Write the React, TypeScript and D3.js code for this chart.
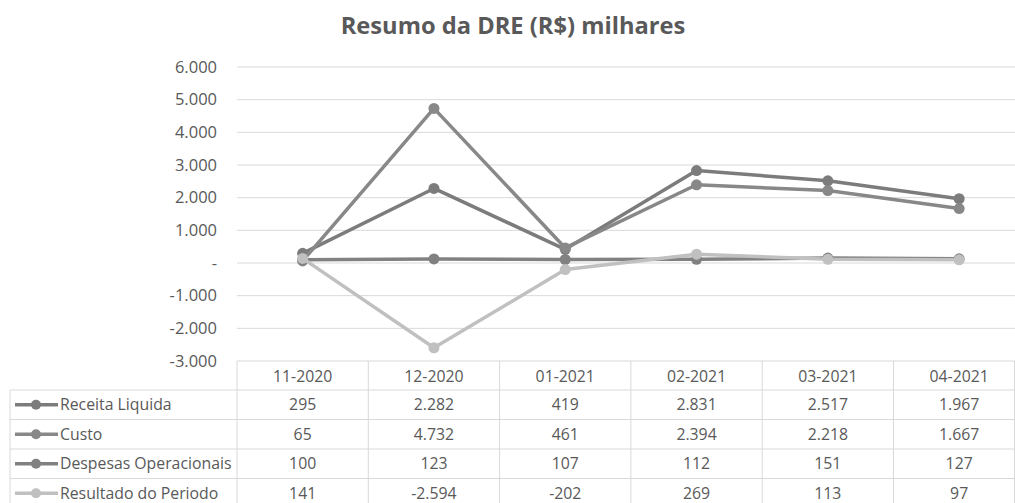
import React from "react";
import * as d3 from "d3";

const categories = ["11-2020", "12-2020", "01-2021", "02-2021", "03-2021", "04-2021"];
const receitaLiquida = [295, 2282, 419, 2831, 2517, 1967];
const custo = [65, 4732, 461, 2394, 2218, 1667];
const despesasOperacionais = [100, 123, 107, 112, 151, 127];
const resultadoPeriodo = [141, -2594, -202, 269, 113, 97];
const seriesNames = ["Receita Liquida", "Custo", "Despesas Operacionais", "Resultado do Periodo"];
const seriesColors = ["#7c7c7c", "#888888", "#818181", "#c0c0c0"];
const yTicks = [-3000, -2000, -1000, 0, 1000, 2000, 3000, 4000, 5000, 6000];
const title = "Resumo da DRE (R$) milhares";

const W = 1015;
const H = 503;
const FONT = "'Open Sans', Lato, sans-serif";
const TEXT = "#595959";
const GRID = "#d9d9d9";

const locale = d3.formatLocale({ decimal: ",", thousands: ".", grouping: [3], currency: ["R$", ""], minus: "-" });
const fmt = locale.format(",d");

function tickLabel(v: number) {
  if (v === 0) return "-";
  return fmt(v);
}

export default function App() {
  const allSeries = [receitaLiquida, custo, despesasOperacionais, resultadoPeriodo];
  const left = 237;
  const colW = 131.3;
  const x = d3.scaleBand<string>().domain(categories).range([left, left + colW * categories.length]).padding(0);
  const y = d3.scaleLinear().domain([-3000, 6000]).range([361, 67]);
  const cx = (i: number) => (x(categories[i]) as number) + x.bandwidth() / 2;
  const line = d3
    .line<number>()
    .x((_, i) => cx(i))
    .y((d) => y(d));

  const tableTop = y(-3000);
  const headerH = 29;
  const rowH = 29.5;
  const rowsTop = tableTop + headerH;
  const tableRight = left + colW * categories.length;
  const fs = 15.8;

  return (
    <svg width={W} height={H} style={{ display: "block", position: "absolute", left: 0, top: 0 }} fontFamily={FONT}>
      <rect x={0} y={0} width={W} height={H} fill="#fff" />
      <text x={513} y={34} textAnchor="middle" fontSize={23.7} fontWeight="bold" fill={TEXT}>
        {title}
      </text>
      {yTicks.map((t) => (
        <g key={t}>
          {t !== -3000 && <line x1={left} x2={W} y1={y(t)} y2={y(t)} stroke={GRID} strokeWidth={1} />}
          <text x={217} y={y(t)} dy="0.35em" textAnchor="end" fontSize={16.5} fill={TEXT}>
            {tickLabel(t)}
          </text>
        </g>
      ))}
      {/* table grid */}
      <line x1={left} x2={tableRight} y1={tableTop} y2={tableTop} stroke={GRID} />
      {seriesNames.map((_, i) => (
        <line key={"h" + i} x1={10} x2={tableRight} y1={rowsTop + i * rowH} y2={rowsTop + i * rowH} stroke={GRID} />
      ))}
      <line x1={10} x2={tableRight} y1={rowsTop + 4 * rowH} y2={rowsTop + 4 * rowH} stroke={GRID} />
      <line x1={10} x2={10} y1={rowsTop} y2={H} stroke={GRID} />
      {categories.map((c) => (
        <line key={"v" + c} x1={x(c)} x2={x(c)} y1={tableTop} y2={H} stroke={GRID} />
      ))}
      <line x1={W - 0.5} x2={W - 0.5} y1={tableTop} y2={H} stroke={GRID} />
      {categories.map((c, i) => (
        <text key={"c" + c} x={cx(i)} y={tableTop + headerH / 2 + 1} dy="0.35em" textAnchor="middle" fontSize={fs} fill={TEXT}>
          {c}
        </text>
      ))}
      {allSeries.map((s, si) => (
        <g key={"r" + si}>
          <line x1={15} x2={58} y1={rowsTop + si * rowH + rowH / 2} y2={rowsTop + si * rowH + rowH / 2} stroke={seriesColors[si]} strokeWidth={3.5} />
          <circle cx={36} cy={rowsTop + si * rowH + rowH / 2} r={5} fill={seriesColors[si]} />
          <text x={60} y={rowsTop + si * rowH + rowH / 2} dy="0.35em" fontSize={fs} fill={TEXT}>
            {seriesNames[si]}
          </text>
          {s.map((v, i) => (
            <text key={i} x={cx(i)} y={rowsTop + si * rowH + rowH / 2} dy="0.35em" textAnchor="middle" fontSize={fs} fill={TEXT}>
              {fmt(v)}
            </text>
          ))}
        </g>
      ))}
      {/* series */}
      {allSeries.map((s, si) => (
        <g key={"s" + si}>
          <path d={line(s) as string} fill="none" stroke={seriesColors[si]} strokeWidth={3.5} strokeLinejoin="round" />
          {s.map((v, i) => (
            <circle key={i} cx={cx(i)} cy={y(v)} r={5.5} fill={seriesColors[si]} />
          ))}
        </g>
      ))}
    </svg>
  );
}
